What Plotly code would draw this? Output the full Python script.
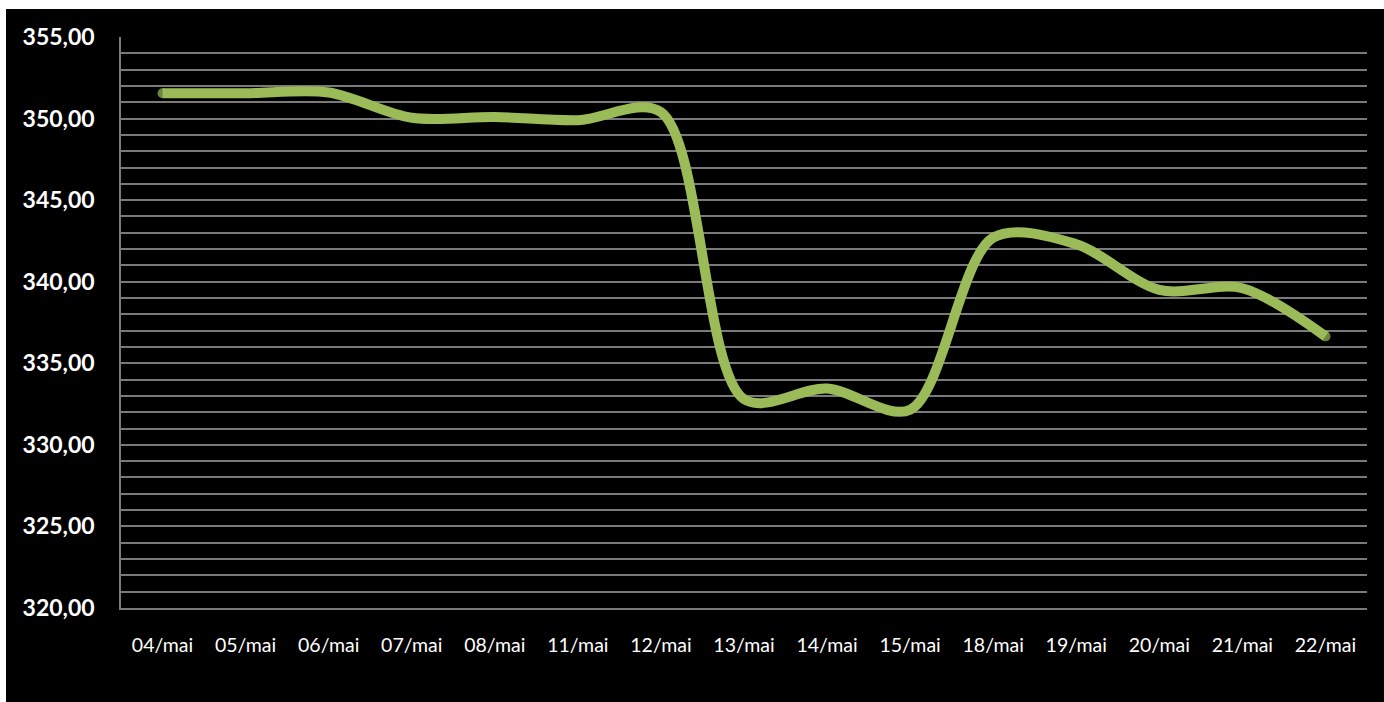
import plotly.graph_objects as go

dates = ["04/mai", "05/mai", "06/mai", "07/mai", "08/mai", "11/mai", "12/mai",
         "13/mai", "14/mai", "15/mai", "18/mai", "19/mai", "20/mai", "21/mai", "22/mai"]
values = [351.55, 351.55, 351.6, 350.05, 350.1, 349.9, 350.4,
          332.8, 333.45, 332.15, 342.7, 342.3, 339.5, 339.6, 336.65]
y_ticks = [320, 325, 330, 335, 340, 345, 350, 355]
y_labels = ["320,00", "325,00", "330,00", "335,00", "340,00", "345,00", "350,00", "355,00"]

W, H = 1384, 702
L, R, T, B = 121, 17, 37, 94
pw, ph = W - L - R, H - T - B

def px(x):
    return (x - L) / pw

def py(y):
    return (H - B - y) / ph

GREEN = "#9BBB59"
GRID = "#7a7a7a"

marker_sizes = [10] + [0] * (len(values) - 2) + [10]

fig = go.Figure()
fig.add_trace(go.Scatter(
    x=dates, y=values, mode="lines+markers",
    line=dict(color=GREEN, width=10, shape="spline", smoothing=0.9),
    marker=dict(color=GREEN, size=marker_sizes, line=dict(width=0)),
    hoverinfo="skip", showlegend=False,
))

fig.update_layout(
    width=W, height=H,
    margin=dict(l=L, r=R, t=T, b=B, pad=0),
    paper_bgcolor="black", plot_bgcolor="black",
    font=dict(family="Lato, sans-serif", color="white"),
    xaxis=dict(
        type="category", range=[-0.5, len(dates) - 0.5],
        showgrid=False, showline=True, linecolor=GRID, linewidth=1.5,
        ticks="", tickfont=dict(size=19.5, color="white", family="Lato"),
        ticklabelstandoff=19, zeroline=False, fixedrange=True,
    ),
    yaxis=dict(
        range=[320, 355], tickvals=y_ticks, ticktext=y_labels,
        showgrid=True, gridcolor=GRID, gridwidth=1.5,
        minor=dict(dtick=1, showgrid=True, gridcolor=GRID, gridwidth=1.5, ticks=""),
        showline=True, linecolor=GRID, linewidth=1.5, ticks="",
        tickfont=dict(size=23, color="white", family="Lato", weight="bold"),
        ticklabelstandoff=20, zeroline=False,
    ),
    shapes=[
        dict(type="rect", xref="paper", yref="paper", x0=px(0), x1=px(6), y0=py(H), y1=py(0),
             fillcolor="white", line=dict(width=0), layer="above"),
        dict(type="rect", xref="paper", yref="paper", x0=px(0), x1=px(W), y0=py(9), y1=py(0),
             fillcolor="white", line=dict(width=0), layer="above"),
    ],
)

fig.write_html("out.html")
